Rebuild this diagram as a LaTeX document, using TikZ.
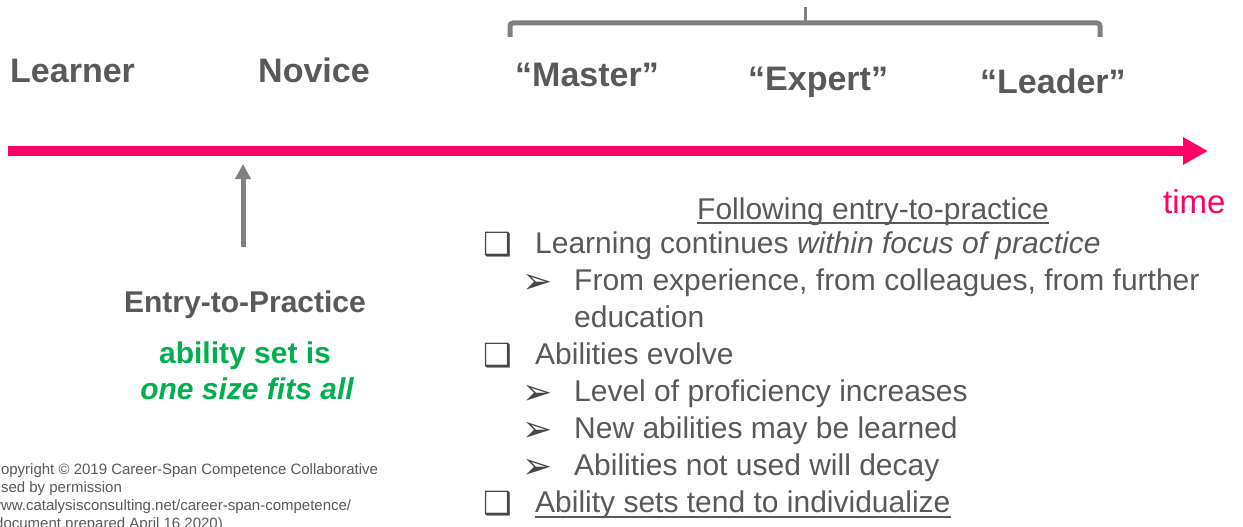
\documentclass[tikz,border=0pt]{standalone}
\usepackage{fontspec}
\setmainfont{Liberation Sans}
\newfontfamily\symfont{DejaVu Sans}
\usepackage{tikz}
\usetikzlibrary{arrows.meta}

\definecolor{txtgray}{HTML}{595959}
\definecolor{arrgray}{HTML}{808080}
\definecolor{timepink}{HTML}{FF0066}
\definecolor{okgreen}{HTML}{00B050}

\tikzset{
	stage/.style={anchor=base west, inner sep=0pt, text=txtgray, font=\fontsize{34}{40}\selectfont\bfseries},
	body/.style={anchor=base west, inner sep=0pt, text=txtgray, font=\fontsize{30}{36}\selectfont},
	sqbullet/.style={anchor=base west, inner sep=0pt, text=txtgray!80!black, font=\symfont\fontsize{32}{36}\selectfont},
	arbullet/.style={anchor=base west, inner sep=0pt, text=txtgray!80!black, font=\symfont\fontsize{36}{40}\selectfont},
	note/.style={anchor=base west, inner sep=0pt, text=txtgray, font=\fontsize{15}{18}\selectfont},
}

\begin{document}
\begin{tikzpicture}[x=1pt, y=-1pt]
	\useasboundingbox (0,0) rectangle (1243,527);
	\clip (0,0) rectangle (1243,527);

	% stages along the time line
	\node[stage] (learner) at (10,82) {Learner};
	\node[stage] (novice) at (258,82) {Novice};
	\node[stage] (master) at (515,87) {“Master”};
	\node[stage] (expert) at (748,91) {“Expert”};
	\node[stage] (leader) at (980,93) {“Leader”};

	% bracket over the last three
	\draw[arrgray, line width=5pt, rounded corners=3pt] (510,37) -- (510,23) -- (1100,23) -- (1100,37);
	\draw[arrgray, line width=3pt] (805,7) -- (805,23);

	% time line
	\coordinate (tstart) at (8,151);
	\coordinate (tend) at (1208,151);
	\draw[timepink, line width=10pt, -{Triangle[length=25pt, width=26pt]}] (tstart) -- (tend);
	\node[anchor=base west, inner sep=0pt, text=timepink, font=\fontsize{33}{40}\selectfont] (time) at (1163,213) {time};

	% entry to practice
	\node[anchor=base, inner sep=0pt, text=txtgray, font=\fontsize{30}{36}\selectfont\bfseries] (entry) at (245,312) {Entry-to-Practice};
	\node[anchor=base, inner sep=0pt, text=okgreen, font=\fontsize{30}{36}\selectfont\bfseries] (ability) at (245,363) {ability set is};
	\node[anchor=base, inner sep=0pt, text=okgreen, font=\fontsize{30}{36}\selectfont\bfseries\itshape] (onesize) at (247,399) {one size fits all};
	\coordinate (ept) at (243,247);
	\coordinate (eptip) at (243,164);
	\draw[arrgray, line width=5pt, -{Triangle[length=15pt, width=15pt]}] (ept) -- (eptip);

	% following entry-to-practice
	\node[body] (follow) at (697,219) {Following entry-to-practice};
	\draw[txtgray, line width=1.5pt] ([yshift=-4pt]follow.base west) -- ([yshift=-4pt]follow.base east);

	\node[sqbullet] (b1) at (483,255) {❑};
	\node[body] (l1) at (535,253) {Learning continues \textit{within focus of practice}};
	\node[arbullet] (a1) at (522,293) {➢};
	\node[body] (l2) at (574,290) {From experience, from colleagues, from further};
	\node[body] (l3) at (574,327) {education};
	\node[sqbullet] (b2) at (483,366) {❑};
	\node[body] (l4) at (535,364) {Abilities evolve};
	\node[arbullet] (a2) at (522,404) {➢};
	\node[body] (l5) at (574,401) {Level of proficiency increases};
	\node[arbullet] (a3) at (522,441) {➢};
	\node[body] (l6) at (574,438) {New abilities may be learned};
	\node[arbullet] (a4) at (522,478) {➢};
	\node[body] (l7) at (574,475) {Abilities not used will decay};
	\node[sqbullet] (b3) at (483,514) {❑};
	\node[body] (l8) at (535,512) {Ability sets tend to individualize};
	\draw[txtgray, line width=1.5pt] ([yshift=-5pt]l8.base west) -- ([yshift=-5pt]l8.base east);

	% copyright note
	\node[note] (c1) at (-10,474) {Copyright © 2019 Career-Span Competence Collaborative};
	\node[note] (c2) at (-10,492) {Used by permission};
	\node[note] (c3) at (-10,510) {www.catalysisconsulting.net/career-span-competence/};
	\node[note] (c4) at (-10,528) {(document prepared April 16 2020)};
\end{tikzpicture}
\end{document}
